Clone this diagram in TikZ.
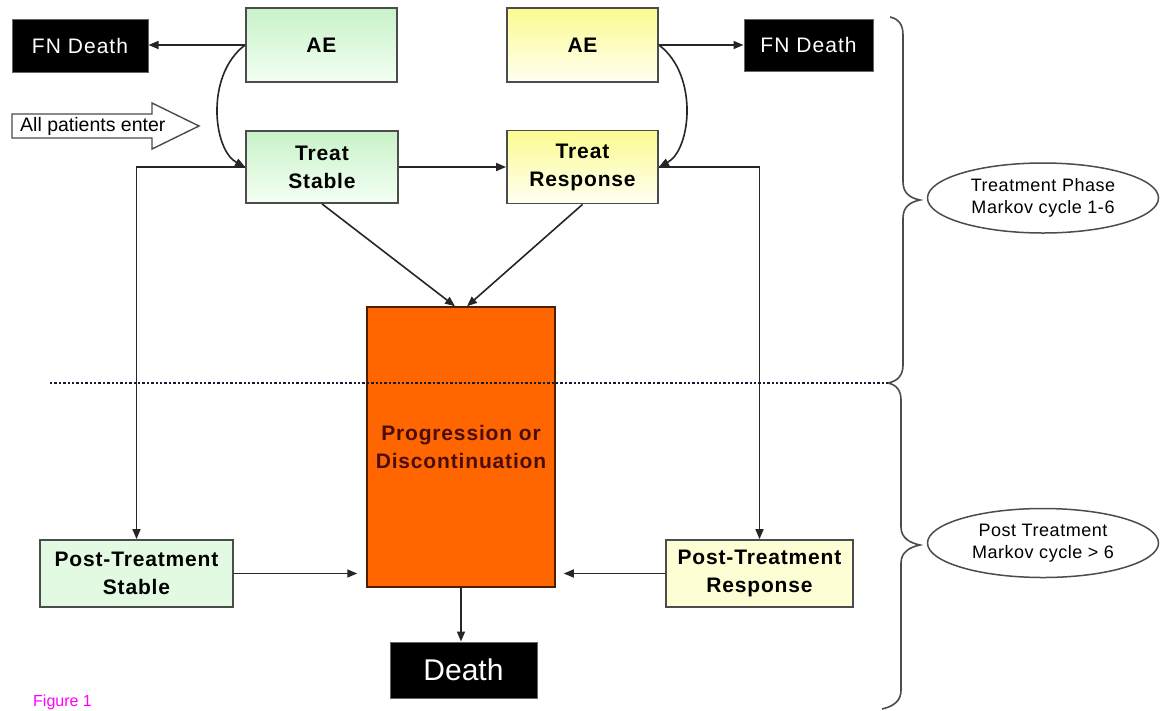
\documentclass[tikz,border=0pt]{standalone}
\usepackage{fontspec}
\setmainfont{Liberation Sans}
\newfontfamily\spacedfont{Liberation Sans}[LetterSpace=4]
\newfontfamily\widefont{Liberation Sans}[LetterSpace=5]
\newfontfamily\ellfont{Liberation Sans}[LetterSpace=3]
\usetikzlibrary{arrows.meta,shapes.geometric}
\definecolor{progfill}{HTML}{FF6600}
\definecolor{progtext}{HTML}{4A0C0C}
\definecolor{gtop}{HTML}{C8F2C8}
\definecolor{gbot}{HTML}{F4FFF4}
\definecolor{ytop}{HTML}{FBFB90}
\definecolor{ybot}{HTML}{FFFFF2}
\definecolor{figmag}{HTML}{FF00FF}
\definecolor{dotcol}{HTML}{1A1A2E}
\begin{document}
\begin{tikzpicture}[x=1pt,y=-1pt,
  arr/.style={-{Triangle[length=10pt,width=8pt]}, line width=1.6pt, draw=black!85},
  boxbase/.style={draw=black!70, line width=1.8pt, inner sep=0pt, align=center,
    font=\spacedfont\fontsize{21}{28}\selectfont\bfseries},
  greenbox/.style={boxbase, top color=gtop, bottom color=gbot},
  yellowbox/.style={boxbase, top color=ytop, bottom color=ybot},
  darkbox/.style={draw=black!60, line width=1pt, fill=black, text=white, inner sep=0pt},
  phase/.style={ellipse, draw=black!70, line width=1.5pt, inner sep=0pt, align=center,
    minimum width=231pt, font=\ellfont\fontsize{18}{22}\selectfont},
  bracepath/.style={draw=black!70, line width=1.6pt},
]
\useasboundingbox (0,0) rectangle (1161,710);
\fill[white] (0,0) rectangle (1161,710);

% top row
\node[darkbox, minimum width=136pt, minimum height=53pt, font=\widefont\fontsize{21}{24}\selectfont] (fnL) at (80,45.5) {FN Death};
\node[greenbox, minimum width=151pt, minimum height=74pt] (aeL) at (321.5,45) {AE};
\node[yellowbox, minimum width=151pt, minimum height=74pt] (aeR) at (582.5,45) {AE};
\node[darkbox, minimum width=129pt, minimum height=52pt, font=\widefont\fontsize{21}{24}\selectfont] (fnR) at (808.5,45) {FN Death};

% entry arrow
\draw[draw=black!70, line width=1.4pt, fill=white]
  (12,114) -- (152,114) -- (152,103) -- (199,126) -- (152,149) -- (152,138) -- (12,138) -- cycle;
\node[anchor=west, inner sep=0pt, font=\fontsize{19.5}{20}\selectfont] (enter) at (20,126) {All patients enter};

% treatment row
\node[greenbox, minimum width=152pt, minimum height=72pt] (tS) at (322,167) {Treat\\Stable};
\node[yellowbox, minimum width=151pt, minimum height=73pt] (tR) at (582.5,167) {Treat\\Response};

% progression
\node[draw=black!70!progfill, line width=1.5pt, fill=progfill, text=progtext, align=center,
  minimum width=188pt, minimum height=280pt, inner sep=0pt,
  font=\spacedfont\fontsize{21}{28}\selectfont\bfseries] (prog) at (461,447) {Progression or\\Discontinuation};

% post treatment
\node[boxbase, fill=gbot!60!gtop, minimum width=193pt, minimum height=67pt] (ptS) at (136.5,573.5) {Post-Treatment\\Stable};
\node[boxbase, fill=ybot!70!ytop, minimum width=187pt, minimum height=67pt] (ptR) at (759.5,573.5) {Post-Treatment\\Response};

% death
\node[darkbox, minimum width=147pt, minimum height=56pt, font=\fontsize{30}{32}\selectfont] (death) at (463.5,670) {Death};

% phase ellipses
\node[phase, minimum height=70pt] (el1) at (1043,198) {Treatment Phase\\Markov cycle 1-6};
\node[phase, minimum height=69pt] (el2) at (1043,543) {Post Treatment\\Markov cycle > 6};

% figure label
\node[anchor=base west, inner sep=0pt, text=figmag, font=\fontsize{16}{18}\selectfont] (fig) at (33,706) {Figure 1};

% connectors
\draw[arr] (aeL.west) -- (fnL.east |- aeL.west);
\draw[arr] (aeL.west) .. controls (205,75) and (213,150) .. (tS.west);
\draw[arr] (tS.west) -| (ptS.north);
\draw[arr] (tS.east) -- (tR.west);
\draw[arr] (aeR.east) -- (fnR.west |- aeR.east);
\draw[arr] (aeR.east) .. controls (699,75) and (691,150) .. (tR.east);
\draw[arr] (tR.east) -| (ptR.north);
\draw[arr] (tS.south) -- ([xshift=-6pt]prog.north);
\draw[arr] (tR.south) -- ([xshift=6pt]prog.north);
\draw[arr, shorten >=9pt] (ptS.east) -- (ptS.east -| prog.west);
\draw[arr, shorten >=8pt] (ptR.west) -- (ptR.west -| prog.east);
\draw[arr] (prog.south) -- (prog.south |- death.north);

% phase divider
\coordinate (dl) at (50,383);
\coordinate (dr) at (888,383);
\draw[dotcol, line width=2.8pt, dash pattern=on 2.4pt off 2pt] (dl) -- (dr);

% braces
\draw[bracepath] (890,17) .. controls (899,19) and (903,25) .. (903,35) -- (903,182)
  .. controls (903,193) and (910,198) .. (920,200)
  .. controls (910,202) and (903,207) .. (903,218) -- (903,365)
  .. controls (903,375) and (898,381) .. (888,383);
\draw[bracepath] (888,383) .. controls (897,385) and (901,391) .. (901,400) -- (901,527)
  .. controls (901,538) and (910,543) .. (920,545)
  .. controls (910,547) and (901,552) .. (901,563) -- (901,690)
  .. controls (901,700) and (895,706) .. (882,709);
\end{tikzpicture}
\end{document}
